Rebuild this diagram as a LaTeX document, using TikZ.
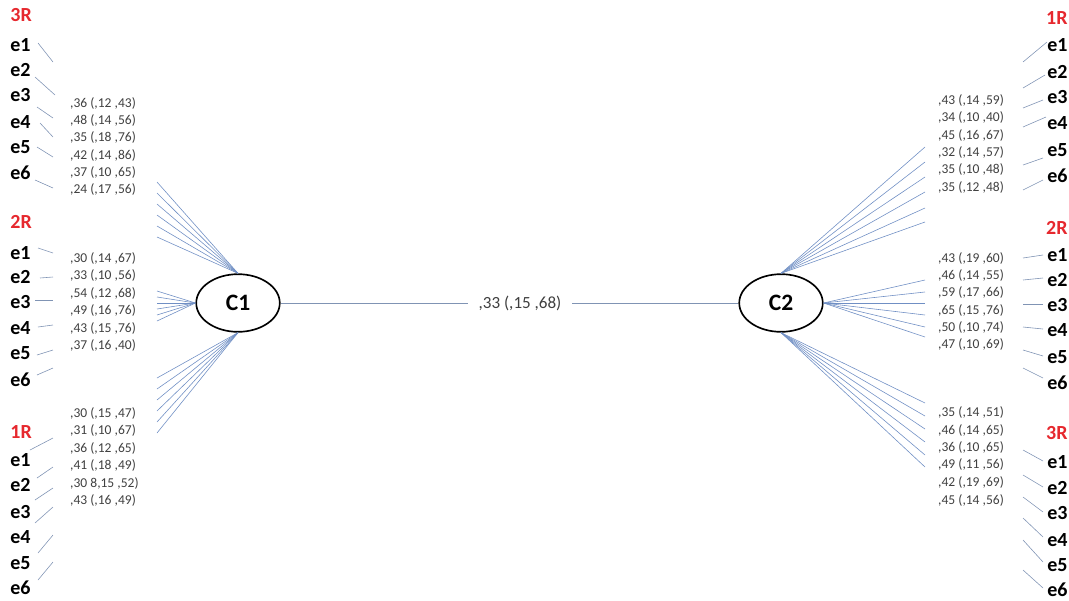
\documentclass[tikz,border=0pt]{standalone}
\usepackage{fontspec}
\setmainfont{Carlito}
\usetikzlibrary{shapes.geometric}
\definecolor{fanblue}{RGB}{112,143,196}
\definecolor{stubgray}{RGB}{128,148,180}
\definecolor{valgray}{RGB}{64,64,64}
\definecolor{rred}{RGB}{230,40,46}

\begin{document}
\begin{tikzpicture}[x=.85pt, y=-.85pt,
        fan/.style={fanblue, line width=.5pt},
        stub/.style={stubgray, line width=.5pt},
        factor/.style={ellipse, draw, line width=1.4pt, minimum width=71pt, minimum height=49pt, inner sep=0pt, font=\fontsize{20}{22}\selectfont\bfseries},
        elab/.style={font=\fontsize{17}{19}\selectfont\bfseries, inner sep=1pt},
        rlab/.style={elab, rred},
        val/.style={font=\fontsize{11.5}{13}\selectfont, valgray, inner sep=0pt, anchor=west}]
                \useasboundingbox (0,0) rectangle (1069,600);
                % factors
                \node[factor] (C1) at (238,303) {C1};
                \node[factor] (C2) at (781,303) {C2};
                \node[font=\fontsize{14.5}{16}\selectfont, valgray, inner xsep=9pt] (cor) at (520,303) {,33 (,15 ,68)};
                \draw[stubgray, line width=.6pt] (C1) -- (cor);
                \draw[stubgray, line width=.6pt] (cor) -- (C2);
                % fan ends, left
                \coordinate (la1) at (157,182);
                \coordinate (la2) at (157,193);
                \coordinate (la3) at (157,204);
                \coordinate (la4) at (157,215);
                \coordinate (la5) at (157,226);
                \coordinate (la6) at (157,237);
                \coordinate (lb1) at (157,291);
                \coordinate (lb2) at (157,297);
                \coordinate (lb3) at (157,303);
                \coordinate (lb4) at (157,309);
                \coordinate (lb5) at (157,315);
                \coordinate (lb6) at (157,321);
                \coordinate (lc1) at (157,378);
                \coordinate (lc2) at (157,389);
                \coordinate (lc3) at (157,400);
                \coordinate (lc4) at (157,411);
                \coordinate (lc5) at (157,422);
                \coordinate (lc6) at (157,433);
                % fan ends, right
                \coordinate (ra1) at (925,147);
                \coordinate (ra2) at (925,162);
                \coordinate (ra3) at (925,177);
                \coordinate (ra4) at (925,192);
                \coordinate (ra5) at (925,208);
                \coordinate (ra6) at (925,222);
                \coordinate (rb1) at (925,280);
                \coordinate (rb2) at (925,292);
                \coordinate (rb3) at (925,303);
                \coordinate (rb4) at (925,315);
                \coordinate (rb5) at (925,327);
                \coordinate (rb6) at (925,337);
                \coordinate (rc1) at (925,403);
                \coordinate (rc2) at (925,416);
                \coordinate (rc3) at (925,429);
                \coordinate (rc4) at (925,442);
                \coordinate (rc5) at (925,455);
                \coordinate (rc6) at (925,467);
                % loadings C1
                \draw[fan] (C1.north) -- (la1);
                \draw[fan] (C1.north) -- (la2);
                \draw[fan] (C1.north) -- (la3);
                \draw[fan] (C1.north) -- (la4);
                \draw[fan] (C1.north) -- (la5);
                \draw[fan] (C1.north) -- (la6);
                \draw[fan] (C1.west) -- (lb1);
                \draw[fan] (C1.west) -- (lb2);
                \draw[fan] (C1.west) -- (lb3);
                \draw[fan] (C1.west) -- (lb4);
                \draw[fan] (C1.west) -- (lb5);
                \draw[fan] (C1.west) -- (lb6);
                \draw[fan] (C1.south) -- (lc1);
                \draw[fan] (C1.south) -- (lc2);
                \draw[fan] (C1.south) -- (lc3);
                \draw[fan] (C1.south) -- (lc4);
                \draw[fan] (C1.south) -- (lc5);
                \draw[fan] (C1.south) -- (lc6);
                % loadings C2
                \draw[fan] (C2.north) -- (ra1);
                \draw[fan] (C2.north) -- (ra2);
                \draw[fan] (C2.north) -- (ra3);
                \draw[fan] (C2.north) -- (ra4);
                \draw[fan] (C2.north) -- (ra5);
                \draw[fan] (C2.north) -- (ra6);
                \draw[fan] (C2.east) -- (rb1);
                \draw[fan] (C2.east) -- (rb2);
                \draw[fan] (C2.east) -- (rb3);
                \draw[fan] (C2.east) -- (rb4);
                \draw[fan] (C2.east) -- (rb5);
                \draw[fan] (C2.east) -- (rb6);
                \draw[fan] (C2.south) -- (rc1);
                \draw[fan] (C2.south) -- (rc2);
                \draw[fan] (C2.south) -- (rc3);
                \draw[fan] (C2.south) -- (rc4);
                \draw[fan] (C2.south) -- (rc5);
                \draw[fan] (C2.south) -- (rc6);
                % values left
                \node[val] (vla1) at (70,103) {,36 (,12 ,43)};
                \node[val] (vla2) at (70,120) {,48 (,14 ,56)};
                \node[val] (vla3) at (70,137) {,35 (,18 ,76)};
                \node[val] (vla4) at (70,155) {,42 (,14 ,86)};
                \node[val] (vla5) at (70,172) {,37 (,10 ,65)};
                \node[val] (vla6) at (70,189) {,24 (,17 ,56)};
                \node[val] (vlb1) at (70,258) {,30 (,14 ,67)};
                \node[val] (vlb2) at (70,275) {,33 (,10 ,56)};
                \node[val] (vlb3) at (70,293) {,54 (,12 ,68)};
                \node[val] (vlb4) at (70,310) {,49 (,16 ,76)};
                \node[val] (vlb5) at (70,328) {,43 (,15 ,76)};
                \node[val] (vlb6) at (70,345) {,37 (,16 ,40)};
                \node[val] (vlc1) at (70,413) {,30 (,15 ,47)};
                \node[val] (vlc2) at (70,430) {,31 (,10 ,67)};
                \node[val] (vlc3) at (70,448) {,36 (,12 ,65)};
                \node[val] (vlc4) at (70,465) {,41 (,18 ,49)};
                \node[val] (vlc5) at (70,483) {,30 8,15 ,52)};
                \node[val] (vlc6) at (70,500) {,43 (,16 ,49)};
                % values right
                \node[val] (vra1) at (938,100) {,43 (,14 ,59)};
                \node[val] (vra2) at (938,117) {,34 (,10 ,40)};
                \node[val] (vra3) at (938,135) {,45 (,16 ,67)};
                \node[val] (vra4) at (938,152) {,32 (,14 ,57)};
                \node[val] (vra5) at (938,169) {,35 (,10 ,48)};
                \node[val] (vra6) at (938,187) {,35 (,12 ,48)};
                \node[val] (vrb1) at (938,258) {,43 (,19 ,60)};
                \node[val] (vrb2) at (938,275) {,46 (,14 ,55)};
                \node[val] (vrb3) at (938,292) {,59 (,17 ,66)};
                \node[val] (vrb4) at (938,310) {,65 (,15 ,76)};
                \node[val] (vrb5) at (938,327) {,50 (,10 ,74)};
                \node[val] (vrb6) at (938,344) {,47 (,10 ,69)};
                \node[val] (vrc1) at (938,412) {,35 (,14 ,51)};
                \node[val] (vrc2) at (938,430) {,46 (,14 ,65)};
                \node[val] (vrc3) at (938,447) {,36 (,10 ,65)};
                \node[val] (vrc4) at (938,464) {,49 (,11 ,56)};
                \node[val] (vrc5) at (938,482) {,42 (,19 ,69)};
                \node[val] (vrc6) at (938,500) {,45 (,14 ,56)};
                % item labels left
                \node[rlab, anchor=west] (l3R) at (9,15) {3R};
                \node[elab, anchor=west] (l3e1) at (9,45) {e1};
                \node[elab, anchor=west] (l3e2) at (9,70) {e2};
                \node[elab, anchor=west] (l3e3) at (9,95) {e3};
                \node[elab, anchor=west] (l3e4) at (9,122) {e4};
                \node[elab, anchor=west] (l3e5) at (9,147) {e5};
                \node[elab, anchor=west] (l3e6) at (9,173) {e6};
                \node[rlab, anchor=west] (l2R) at (9,222) {2R};
                \node[elab, anchor=west] (l2e1) at (9,253) {e1};
                \node[elab, anchor=west] (l2e2) at (9,277) {e2};
                \node[elab, anchor=west] (l2e3) at (9,302) {e3};
                \node[elab, anchor=west] (l2e4) at (9,328) {e4};
                \node[elab, anchor=west] (l2e5) at (9,353) {e5};
                \node[elab, anchor=west] (l2e6) at (9,380) {e6};
                \node[rlab, anchor=west] (l1R) at (9,432) {1R};
                \node[elab, anchor=west] (l1e1) at (9,460) {e1};
                \node[elab, anchor=west] (l1e2) at (9,485) {e2};
                \node[elab, anchor=west] (l1e3) at (9,512) {e3};
                \node[elab, anchor=west] (l1e4) at (9,537) {e4};
                \node[elab, anchor=west] (l1e5) at (9,563) {e5};
                \node[elab, anchor=west] (l1e6) at (9,588) {e6};
                % item labels right
                \node[rlab, anchor=east] (r1R) at (1069,18) {1R};
                \node[elab, anchor=east] (r1e1) at (1069,45) {e1};
                \node[elab, anchor=east] (r1e2) at (1069,72) {e2};
                \node[elab, anchor=east] (r1e3) at (1069,97) {e3};
                \node[elab, anchor=east] (r1e4) at (1069,123) {e4};
                \node[elab, anchor=east] (r1e5) at (1069,150) {e5};
                \node[elab, anchor=east] (r1e6) at (1069,176) {e6};
                \node[rlab, anchor=east] (r2R) at (1069,228) {2R};
                \node[elab, anchor=east] (r2e1) at (1069,255) {e1};
                \node[elab, anchor=east] (r2e2) at (1069,280) {e2};
                \node[elab, anchor=east] (r2e3) at (1069,305) {e3};
                \node[elab, anchor=east] (r2e4) at (1069,330) {e4};
                \node[elab, anchor=east] (r2e5) at (1069,357) {e5};
                \node[elab, anchor=east] (r2e6) at (1069,383) {e6};
                \node[rlab, anchor=east] (r3R) at (1069,433) {3R};
                \node[elab, anchor=east] (r3e1) at (1069,462) {e1};
                \node[elab, anchor=east] (r3e2) at (1069,488) {e2};
                \node[elab, anchor=east] (r3e3) at (1069,513) {e3};
                \node[elab, anchor=east] (r3e4) at (1069,540) {e4};
                \node[elab, anchor=east] (r3e5) at (1069,565) {e5};
                \node[elab, anchor=east] (r3e6) at (1069,590) {e6};
                % stubs left
                \draw[stub] (38,43) -- (53,62);
                \draw[stub] (35,77) -- (55,95);
                \draw[stub] (37,107) -- (53,118);
                \draw[stub] (40,123) -- (53,137);
                \draw[stub] (37,147) -- (53,157);
                \draw[stub] (35,180) -- (53,188);
                \draw[stub] (38,248) -- (53,253);
                \draw[stub] (40,278) -- (53,277);
                \draw[stub] (35,300) -- (53,300);
                \draw[stub] (38,327) -- (53,325);
                \draw[stub] (37,355) -- (53,350);
                \draw[stub] (37,375) -- (53,368);
                \draw[stub] (30,450) -- (53,438);
                \draw[stub] (37,478) -- (53,467);
                \draw[stub] (35,500) -- (53,488);
                \draw[stub] (35,523) -- (53,507);
                \draw[stub] (38,553) -- (53,535);
                \draw[stub] (38,580) -- (53,562);
                % stubs right
                \draw[stub] (1023,62) -- (1047,42);
                \draw[stub] (1023,88) -- (1045,75);
                \draw[stub] (1023,108) -- (1043,100);
                \draw[stub] (1023,127) -- (1046,117);
                \draw[stub] (1023,165) -- (1043,158);
                \draw[stub] (1023,190) -- (1043,180);
                \draw[stub] (1023,258) -- (1043,255);
                \draw[stub] (1023,280) -- (1043,278);
                \draw[stub] (1023,304) -- (1043,304);
                \draw[stub] (1023,327) -- (1043,329);
                \draw[stub] (1023,350) -- (1043,356);
                \draw[stub] (1023,368) -- (1043,378);
                \draw[stub] (1023,450) -- (1043,461);
                \draw[stub] (1023,475) -- (1043,487);
                \draw[stub] (1023,497) -- (1043,512);
                \draw[stub] (1023,518) -- (1043,537);
                \draw[stub] (1023,540) -- (1043,562);
                \draw[stub] (1023,570) -- (1043,588);
    \end{tikzpicture}
\end{document}
